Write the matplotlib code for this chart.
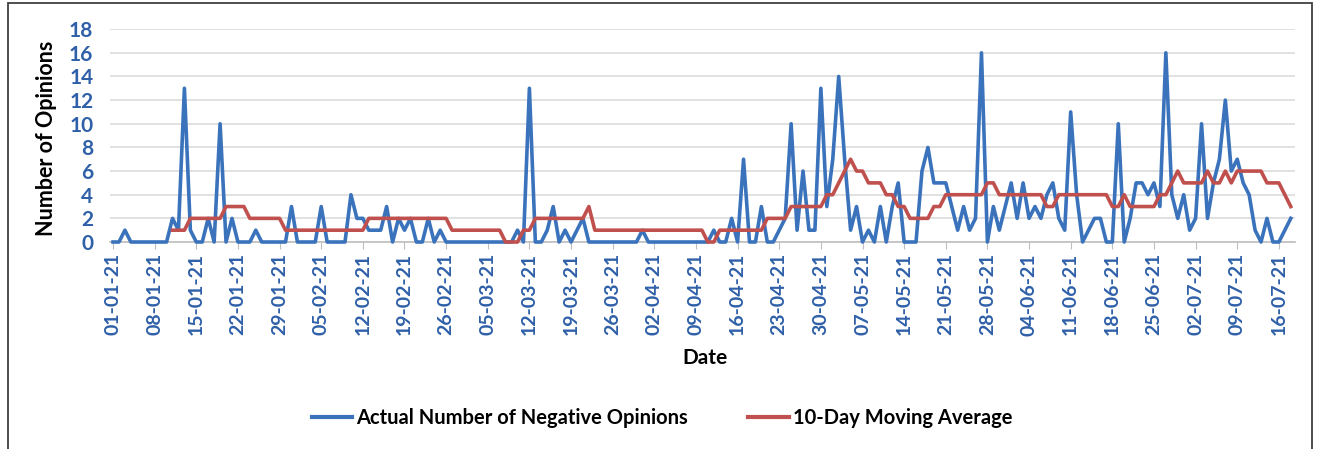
import numpy as np
import pandas as pd
import matplotlib
matplotlib.use('Agg')
import matplotlib.pyplot as plt
import matplotlib.dates as mdates
from matplotlib.lines import Line2D
from matplotlib.patches import Rectangle

plt.rcParams['font.family'] = ['Lato', 'DejaVu Sans']

# Daily counts of negative opinions, 01-01-21 onwards
start_date = '2021-01-01'
actual_counts = [
    0, 0, 1, 0, 0, 0, 0, 0, 0, 0,
    2, 1, 13, 1, 0, 0, 2, 0, 10, 0,
    2, 0, 0, 0, 1, 0, 0, 0, 0, 0,
    3, 0, 0, 0, 0, 3, 0, 0, 0, 0,
    4, 2, 2, 1, 1, 1, 3, 0, 2, 1,
    2, 0, 0, 2, 0, 1, 0, 0, 0, 0,
    0, 0, 0, 0, 0, 0, 0, 0, 1, 0,
    13, 0, 0, 1, 3, 0, 1, 0, 1, 2,
    0, 0, 0, 0, 0, 0, 0, 0, 0, 1,
    0, 0, 0, 0, 0, 0, 0, 0, 0, 0,
    0, 1, 0, 0, 2, 0, 7, 0, 0, 3,
    0, 0, 1, 2, 10, 1, 6, 1, 1, 13,
    3, 7, 14, 7, 1, 3, 0, 1, 0, 3,
    0, 3, 5, 0, 0, 0, 6, 8, 5, 5,
    5, 3, 1, 3, 1, 2, 16, 0, 3, 1,
    3, 5, 2, 5, 2, 3, 2, 4, 5, 2,
    1, 11, 4, 0, 1, 2, 2, 0, 0, 10,
    0, 2, 5, 5, 4, 5, 3, 16, 4, 2,
    4, 1, 2, 10, 2, 5, 7, 12, 6, 7,
    5, 4, 1, 0, 2, 0, 0, 1, 2,
]

# 10-day moving average as shown on the chart (starts on day 11)
moving_avg = [np.nan] * 10 + [
    1, 1, 1, 2, 2, 2, 2, 2, 2, 3,
    3, 3, 3, 2, 2, 2, 2, 2, 2, 1,
    1, 1, 1, 1, 1, 1, 1, 1, 1, 1,
    1, 1, 1, 2, 2, 2, 2, 2, 2, 2,
    2, 2, 2, 2, 2, 2, 2, 1, 1, 1,
    1, 1, 1, 1, 1, 1, 0, 0, 0, 1,
    1, 2, 2, 2, 2, 2, 2, 2, 2, 2,
    3, 1, 1, 1, 1, 1, 1, 1, 1, 1,
    1, 1, 1, 1, 1, 1, 1, 1, 1, 1,
    0, 0, 1, 1, 1, 1, 1, 1, 1, 1,
    2, 2, 2, 2, 3, 3, 3, 3, 3, 3,
    4, 4, 5, 6, 7, 6, 6, 5, 5, 5,
    4, 4, 3, 3, 2, 2, 2, 2, 3, 3,
    4, 4, 4, 4, 4, 4, 4, 5, 5, 4,
    4, 4, 4, 4, 4, 4, 4, 3, 3, 4,
    4, 4, 4, 4, 4, 4, 4, 4, 3, 3,
    4, 3, 3, 3, 3, 3, 4, 4, 5, 6,
    5, 5, 5, 5, 6, 5, 5, 6, 5, 6,
    6, 6, 6, 6, 5, 5, 5, 4, 3,
]

series_labels = ['Actual Number of Negative Opinions', '10-Day Moving Average']
y_ticks = [0, 2, 4, 6, 8, 10, 12, 14, 16, 18]

blue = '#3A73BB'
red = '#C0504D'
label_blue = '#2F60A8'

dates = pd.date_range(start_date, periods=len(actual_counts), freq='D')
tick_dates = pd.date_range(start_date, dates[-1], freq='7D')

fig = plt.figure(figsize=(13.18, 4.49), dpi=100)
ax = fig.add_axes([0.0835, 0.461, 0.899, 0.474])

ax.plot(dates, actual_counts, color=blue, lw=2.6, clip_on=False, zorder=3)
ax.plot(dates, moving_avg, color=red, lw=2.6, clip_on=False, zorder=4)

ax.set_ylim(0, 18)
ax.set_yticks(y_ticks)
ax.set_xlim(dates[0] - pd.Timedelta(days=0.5), dates[-1] + pd.Timedelta(days=0.7))
ax.set_xticks(tick_dates)
ax.xaxis.set_major_formatter(mdates.DateFormatter('%d-%m-%y'))

ax.grid(axis='y', color='#D9D9D9', lw=1.1)
ax.set_axisbelow(True)
for side in ['left', 'right', 'top']:
    ax.spines[side].set_visible(False)
ax.spines['bottom'].set_color('#BFBFBF')
ax.spines['bottom'].set_linewidth(1.2)

ax.tick_params(axis='y', length=0, pad=12, labelsize=15, labelcolor=label_blue)
ax.tick_params(axis='x', length=5, color='#BFBFBF', pad=3, labelsize=14,
               labelcolor=label_blue, labelrotation=90)
for lab in ax.get_xticklabels() + ax.get_yticklabels():
    lab.set_fontweight('bold')

fig.text(47 / 1318, 1 - 138 / 449, 'Number of Opinions', rotation=90,
         ha='center', va='center', fontsize=15.5, fontweight='bold')
fig.text(705 / 1318, 1 - 358 / 449, 'Date', ha='center', va='center',
         fontsize=15, fontweight='bold')

handles = [Line2D([], [], color=blue, lw=3), Line2D([], [], color=red, lw=3)]
fig.legend(handles, series_labels, loc='center', bbox_to_anchor=(662 / 1318, 1 - 418 / 449),
           ncol=2, frameon=False, handlelength=2.0, handletextpad=0.2,
           columnspacing=3.0, prop={'weight': 'bold', 'size': 14.5})

fig.add_artist(Rectangle((8 / 1318, -0.01), 1304 / 1318, 1 - 3 / 449 + 0.01,
                         transform=fig.transFigure, fill=False, edgecolor='#404040', lw=1.3))

fig.savefig('out.png', dpi=100)
